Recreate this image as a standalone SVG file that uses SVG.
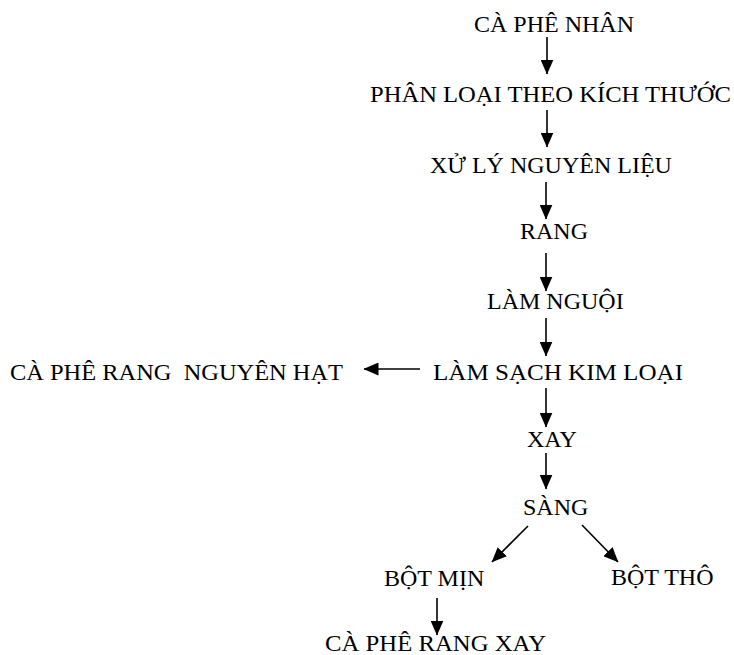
<svg xmlns="http://www.w3.org/2000/svg" width="734" height="655" viewBox="0 0 734 655">
  <style>
    .lbl { font-family: "Liberation Serif", "Times New Roman", serif; font-size: 24px; fill: #000; }
    .edge { stroke: #000; stroke-width: 1.6; fill: none; marker-end: url(#head); }
  </style>
  <defs>
    <marker id="head" markerUnits="userSpaceOnUse" markerWidth="15" markerHeight="13" refX="14.5" refY="6.5" orient="auto">
      <path d="M0,0 L15,6.5 L0,13 Z" fill="#000"/>
    </marker>
  </defs>
  <rect width="734" height="655" fill="#fff"/>

  <!-- process steps -->
  <g id="n-caphenhan"><text class="lbl" x="474" y="32">CÀ PHÊ NHÂN</text></g>
  <g id="n-phanloai"><text class="lbl" x="370" y="102" textLength="361" lengthAdjust="spacingAndGlyphs">PHÂN LOẠI THEO KÍCH THƯỚC</text></g>
  <g id="n-xuly"><text class="lbl" x="430" y="173">XỬ LÝ NGUYÊN LIỆU</text></g>
  <g id="n-rang"><text class="lbl" x="520" y="239">RANG</text></g>
  <g id="n-lamnguoi"><text class="lbl" x="487" y="309">LÀM NGUỘI</text></g>
  <g id="n-lamsach"><text class="lbl" x="433" y="380" textLength="250" lengthAdjust="spacingAndGlyphs">LÀM SẠCH KIM LOẠI</text></g>
  <g id="n-nguyenhat"><text class="lbl" x="10" y="380" xml:space="preserve" textLength="333" lengthAdjust="spacingAndGlyphs">CÀ PHÊ RANG  NGUYÊN HẠT</text></g>
  <g id="n-xay"><text class="lbl" x="527" y="447">XAY</text></g>
  <g id="n-sang"><text class="lbl" x="523" y="515">SÀNG</text></g>
  <g id="n-botmin"><text class="lbl" x="384" y="586">BỘT MỊN</text></g>
  <g id="n-bottho"><text class="lbl" x="611" y="585">BỘT THÔ</text></g>
  <g id="n-rangxay"><text class="lbl" x="325" y="651" textLength="221" lengthAdjust="spacingAndGlyphs">CÀ PHÊ RANG XAY</text></g>

  <!-- connectors -->
  <g id="edges">
    <line class="edge" x1="547" y1="37" x2="547" y2="74"/>
    <line class="edge" x1="547" y1="110" x2="547" y2="147"/>
    <line class="edge" x1="546" y1="182" x2="546" y2="219"/>
    <line class="edge" x1="546" y1="253" x2="546" y2="291"/>
    <line class="edge" x1="546" y1="318" x2="546" y2="356"/>
    <line class="edge" x1="420" y1="369" x2="364" y2="369"/>
    <line class="edge" x1="546" y1="388" x2="546" y2="427"/>
    <line class="edge" x1="546" y1="453" x2="546" y2="489"/>
    <line class="edge" x1="528" y1="526" x2="492" y2="562"/>
    <line class="edge" x1="582" y1="525" x2="618" y2="562"/>
    <line class="edge" x1="437" y1="598" x2="437" y2="635"/>
  </g>
</svg>
